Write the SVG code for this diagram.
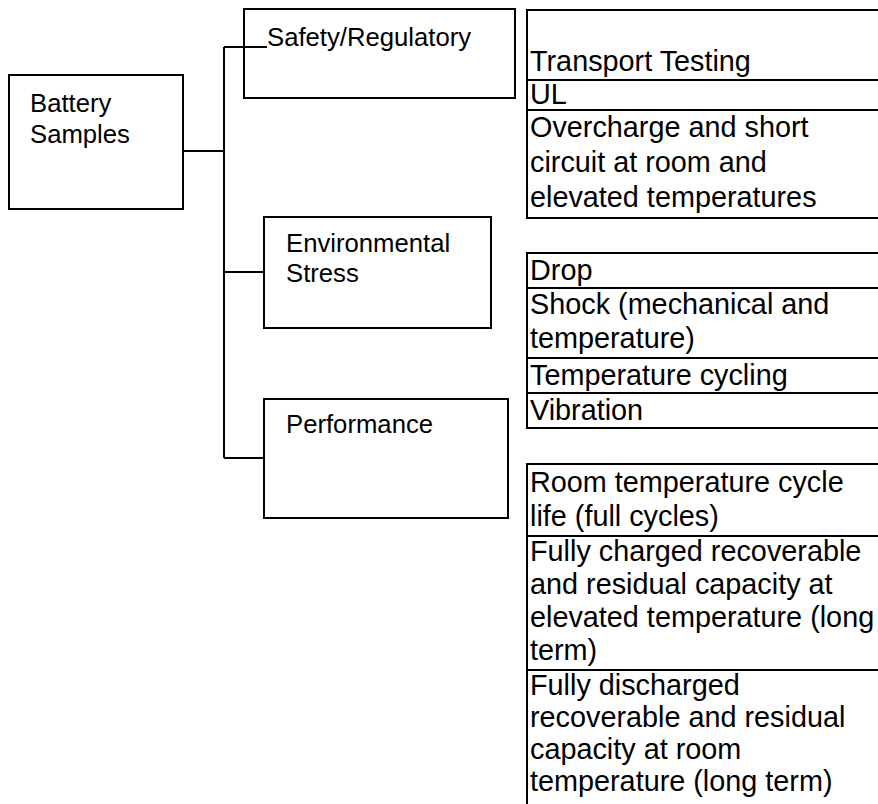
<svg xmlns="http://www.w3.org/2000/svg" width="878" height="804" viewBox="0 0 878 804">
<style>
.box{fill:#fff;stroke:#000;stroke-width:2}
.ln{fill:none;stroke:#000;stroke-width:2}
.tl{font-family:"Liberation Sans",Arial,sans-serif;font-size:25.7px;fill:#000}
.tr{font-family:"Liberation Sans",Arial,sans-serif;font-size:28.8px;fill:#000}
</style>
<rect width="878" height="804" fill="#fff"/>
<g id="connectors">
<path class="ln" d="M183,151 H224 M224,47 V458 M224,47 H267 M224,272 H264 M224,458 H264"/>
</g>
<g id="battery-samples">
<rect class="box" x="9" y="75" width="174" height="134"/>
<text class="tl" x="30" y="112">Battery</text>
<text class="tl" x="30" y="143">Samples</text>
</g>
<g id="safety-regulatory">
<rect class="box" x="244" y="9" width="271" height="89"/>
<path class="ln" d="M244,47 H267"/>
<text class="tl" x="267" y="46">Safety/Regulatory</text>
</g>
<g id="environmental-stress">
<rect class="box" x="264" y="217" width="227" height="111"/>
<text class="tl" x="286" y="252">Environmental</text>
<text class="tl" x="286" y="282">Stress</text>
</g>
<g id="performance">
<rect class="box" x="264" y="399" width="244" height="119"/>
<text class="tl" x="286" y="433">Performance</text>
</g>
<g id="safety-tests">
<path class="ln" d="M527,9 V219 M526,10 H880 M527,80 H880 M527,110 H880 M526,218 H880"/>
<text class="tr" x="530" y="71">Transport Testing</text>
<text class="tr" x="530" y="104">UL</text>
<text class="tr" x="530" y="137">Overcharge and short</text>
<text class="tr" x="530" y="172">circuit at room and</text>
<text class="tr" x="530" y="207">elevated temperatures</text>
</g>
<g id="environmental-tests">
<path class="ln" d="M527,252 V429 M526,253 H880 M527,288 H880 M527,358 H880 M527,393 H880 M526,428 H880"/>
<text class="tr" x="530" y="280">Drop</text>
<text class="tr" x="530" y="314">Shock (mechanical and</text>
<text class="tr" x="530" y="348">temperature)</text>
<text class="tr" x="530" y="385">Temperature cycling</text>
<text class="tr" x="530" y="420">Vibration</text>
</g>
<g id="performance-tests">
<path class="ln" d="M527,463 V806 M526,464 H880 M527,536 H880 M527,670 H880"/>
<text class="tr" x="530" y="492">Room temperature cycle</text>
<text class="tr" x="530" y="526">life (full cycles)</text>
<text class="tr" x="530" y="561">Fully charged recoverable</text>
<text class="tr" x="530" y="594">and residual capacity at</text>
<text class="tr" x="530" y="627">elevated temperature (long</text>
<text class="tr" x="530" y="660">term)</text>
<text class="tr" x="530" y="695">Fully discharged</text>
<text class="tr" x="530" y="727">recoverable and residual</text>
<text class="tr" x="530" y="759">capacity at room</text>
<text class="tr" x="530" y="791">temperature (long term)</text>
</g>
</svg>
